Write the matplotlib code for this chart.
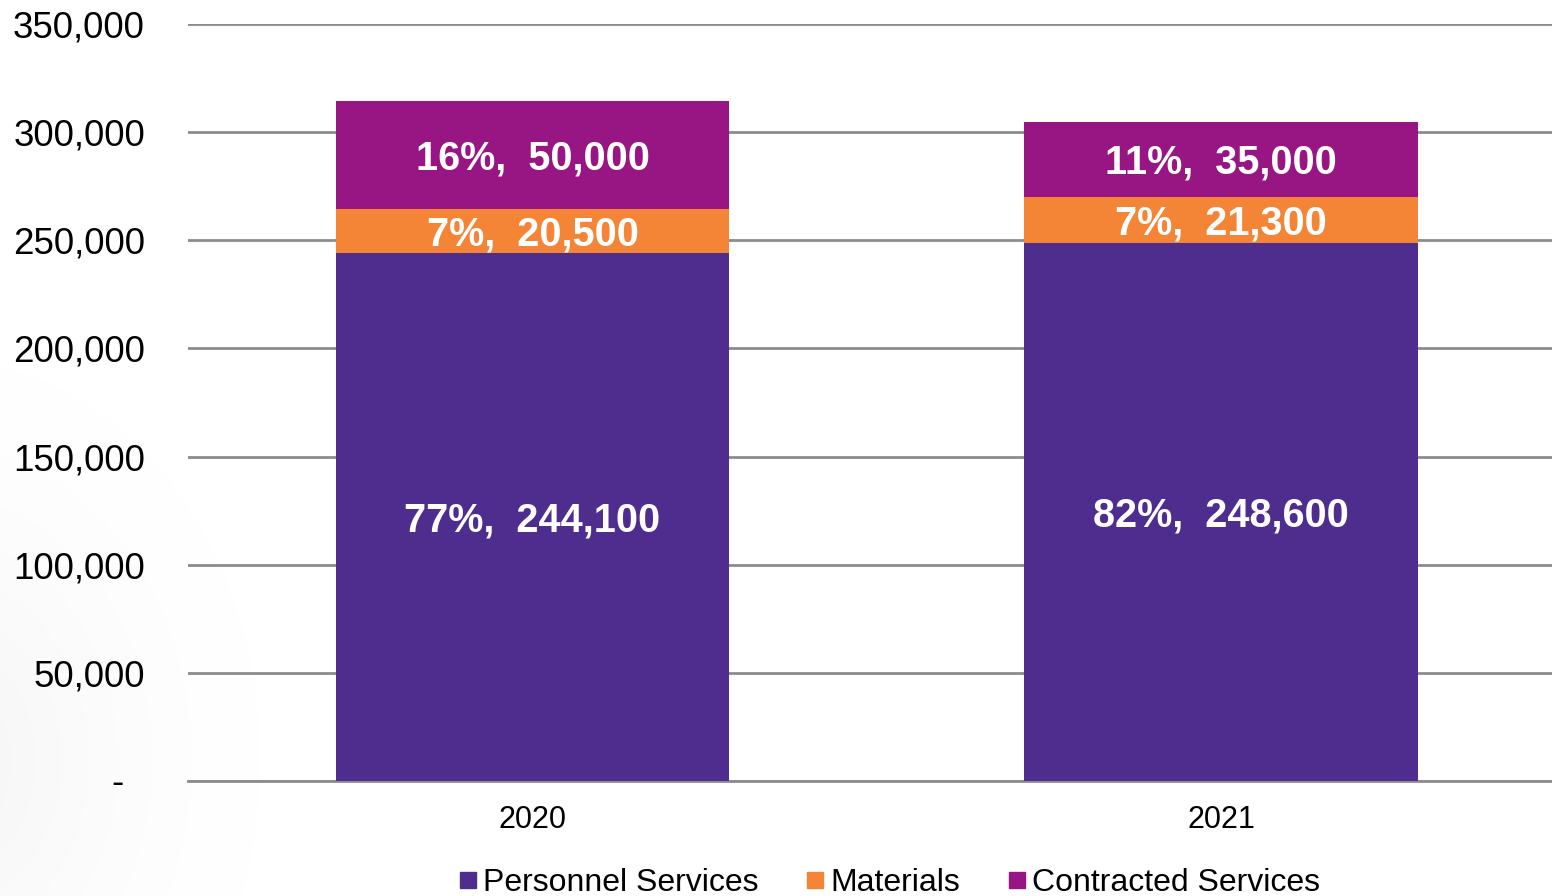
import numpy as np
import matplotlib
matplotlib.use("Agg")
import matplotlib.pyplot as plt
from matplotlib.lines import Line2D
from matplotlib.ticker import FuncFormatter
from matplotlib.transforms import blended_transform_factory, offset_copy

years = ["2020", "2021"]
series_names = ["Personnel Services", "Materials", "Contracted Services"]
personnel = [244100, 248600]
materials = [20500, 21300]
contracted = [50000, 35000]
personnel_pct = ["77%", "82%"]
materials_pct = ["7%", "7%"]
contracted_pct = ["16%", "11%"]
y_ticks = [0, 50000, 100000, 150000, 200000, 250000, 300000, 350000]

colors = ["#4F2D8E", "#F48536", "#981584"]
grid_color = "#8C8C8C"

plt.rcParams["font.family"] = ["Liberation Sans", "DejaVu Sans"]

fig = plt.figure(figsize=(15.52, 8.96), dpi=100)

# faint shading toward the lower-left edge
bg = fig.add_axes([0, 0, 1, 1], zorder=-10)
W, H = 1552, 896
xx, yy = np.meshgrid(np.arange(W), np.arange(H))
d = np.sqrt((xx + 60.0) ** 2 + ((yy - 760.0) * 0.8) ** 2)
shade = 1.0 - 0.04 * np.clip(1 - d / 320.0, 0, 1) ** 1.5
img = np.dstack([shade, shade, shade])
bg.imshow(img, aspect="auto", extent=[0, 1, 0, 1], origin="upper")
bg.axis("off")

ax = fig.add_axes([188 / W, 1 - 781 / H, 1 - 188 / W, (781 - 24) / H])
ax.patch.set_alpha(0)

x = np.arange(len(years))
width = 0.571
stacks = [personnel, materials, contracted]
pcts = [personnel_pct, materials_pct, contracted_pct]
bottom = np.zeros(len(years))
for vals, pct, col in zip(stacks, pcts, colors):
    vals = np.array(vals, dtype=float)
    ax.bar(x, vals, width, bottom=bottom, color=col, zorder=3, linewidth=0)
    for xi, b, v, p in zip(x, bottom, vals, pct):
        ax.annotate(f"{p},  {int(v):,}", (xi, b + v / 2), xytext=(0, -2.5),
                    textcoords="offset points", ha="center", va="center",
                    color="white", fontsize=28.5, fontweight="bold", zorder=4)
    bottom += vals

ax.set_xlim(-0.5004, 1.4808)
ax.set_ylim(0, 350000)
ax.set_yticks(y_ticks)
ax.yaxis.set_major_formatter(FuncFormatter(lambda v, _: f"{int(v):,}" if v else ""))
ax.set_xticks(x)
ax.set_xticklabels(years)
ax.grid(axis="y", color=grid_color, linewidth=2, zorder=0)
ax.set_axisbelow(True)
for s in ["top", "right", "left"]:
    ax.spines[s].set_visible(False)
ax.spines["bottom"].set_color(grid_color)
ax.spines["bottom"].set_linewidth(2)
ax.tick_params(axis="y", length=0, pad=31, labelsize=26.5, labelcolor="black")
ax.tick_params(axis="x", length=0, pad=17, labelsize=22, labelcolor="black")

# zero shown as a dash, set in from the other labels (accounting format)
trans = offset_copy(blended_transform_factory(ax.transAxes, ax.transData),
                    fig=fig, x=0, y=-2, units="dots")
ax.text(-(188 - 124) / 1364, 0, "-", transform=trans, ha="right", va="center",
        fontsize=26.5, color="black")

handles = [Line2D([], [], marker="s", linestyle="none", markersize=11,
                  markerfacecolor=c, markeredgecolor=c) for c in colors]
fig.legend(handles, series_names, loc="center", ncol=3, frameon=False,
           bbox_to_anchor=(890 / W, 1 - 883 / H), fontsize=23,
           handlelength=0.5, handletextpad=0.25, columnspacing=1.5,
           borderaxespad=0, borderpad=0)

fig.savefig("out.png", dpi=100)
